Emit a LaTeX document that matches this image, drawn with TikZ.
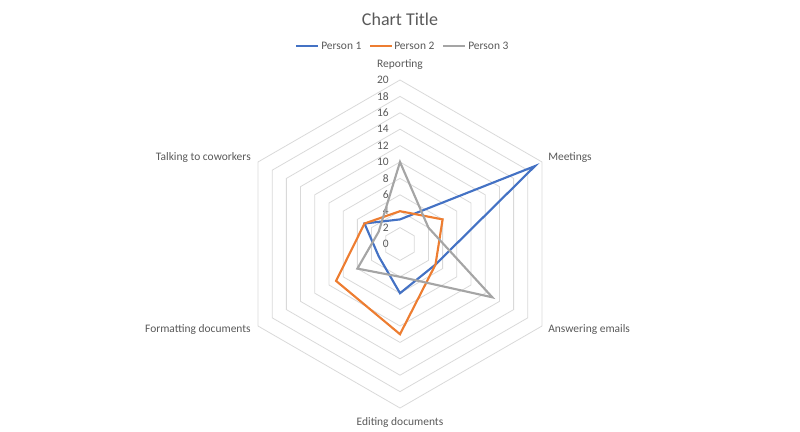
\documentclass[tikz,border=0pt]{standalone}
\usepackage{fontspec}
\setmainfont{Carlito}
\definecolor{pone}{HTML}{4472C4}
\definecolor{ptwo}{HTML}{ED7D31}
\definecolor{pthree}{HTML}{A5A5A5}
\definecolor{txt}{HTML}{595959}
\definecolor{grid}{HTML}{D9D9D9}
\begin{document}
\begin{tikzpicture}[x=0.75pt,y=-0.75pt,
  lbl/.style={text=txt,font=\fontsize{8.6pt}{10pt}\selectfont,inner sep=0pt},
  series/.style={line width=1.6pt,line join=miter}]
\useasboundingbox (0,0) rectangle (800,432);
\def\cx{400}\def\cy{244}\def\u{8.2}
\newcommand{\radar}[7]{%
  \draw[#1] ({\cx+\u*(#2)*cos(90)},{\cy-\u*(#2)*sin(90)}) -- ({\cx+\u*(#3)*cos(30)},{\cy-\u*(#3)*sin(30)}) -- ({\cx+\u*(#4)*cos(-30)},{\cy-\u*(#4)*sin(-30)}) -- ({\cx+\u*(#5)*cos(-90)},{\cy-\u*(#5)*sin(-90)}) -- ({\cx+\u*(#6)*cos(-150)},{\cy-\u*(#6)*sin(-150)}) -- ({\cx+\u*(#7)*cos(150)},{\cy-\u*(#7)*sin(150)}) -- cycle;}
% grid
\foreach \v in {2,4,...,20}{
  \radar{grid,line width=0.6pt}{\v}{\v}{\v}{\v}{\v}{\v}
}
\foreach \v in {0,2,...,20}{
  \node[lbl,anchor=east] (t\v) at (389,{\cy-\u*\v}) {\v};
}
\radar{series,pone}{3}{19}{5}{6}{3}{5}
\radar{series,ptwo}{4}{6}{5}{11}{9}{5}
\radar{series,pthree}{10}{4}{13}{4}{6}{3}
% axis labels
\node[lbl] (rep) at (400,65) {Reporting};
\node[lbl,anchor=west] (mee) at (548,158) {Meetings};
\node[lbl,anchor=west] (ans) at (548,330) {Answering emails};
\node[lbl] (edi) at (400,422) {Editing documents};
\node[lbl,anchor=east] (for) at (251,330) {Formatting documents};
\node[lbl,anchor=east] (tal) at (251,158) {Talking to coworkers};
% title
\node[text=txt,font=\fontsize{13.5pt}{15pt}\selectfont] (title) at (400,19) {Chart Title};
% legend
\coordinate (l1a) at (296,46); \coordinate (l1b) at (318,46);
\coordinate (l2a) at (370,46); \coordinate (l2b) at (392,46);
\coordinate (l3a) at (443,46); \coordinate (l3b) at (465,46);
\draw[series,pone] (l1a) -- (l1b);
\draw[series,ptwo] (l2a) -- (l2b);
\draw[series,pthree] (l3a) -- (l3b);
\node[lbl,anchor=west] (n1) at (321,46) {Person 1};
\node[lbl,anchor=west] (n2) at (394,46) {Person 2};
\node[lbl,anchor=west] (n3) at (468,46) {Person 3};
\end{tikzpicture}
\end{document}
